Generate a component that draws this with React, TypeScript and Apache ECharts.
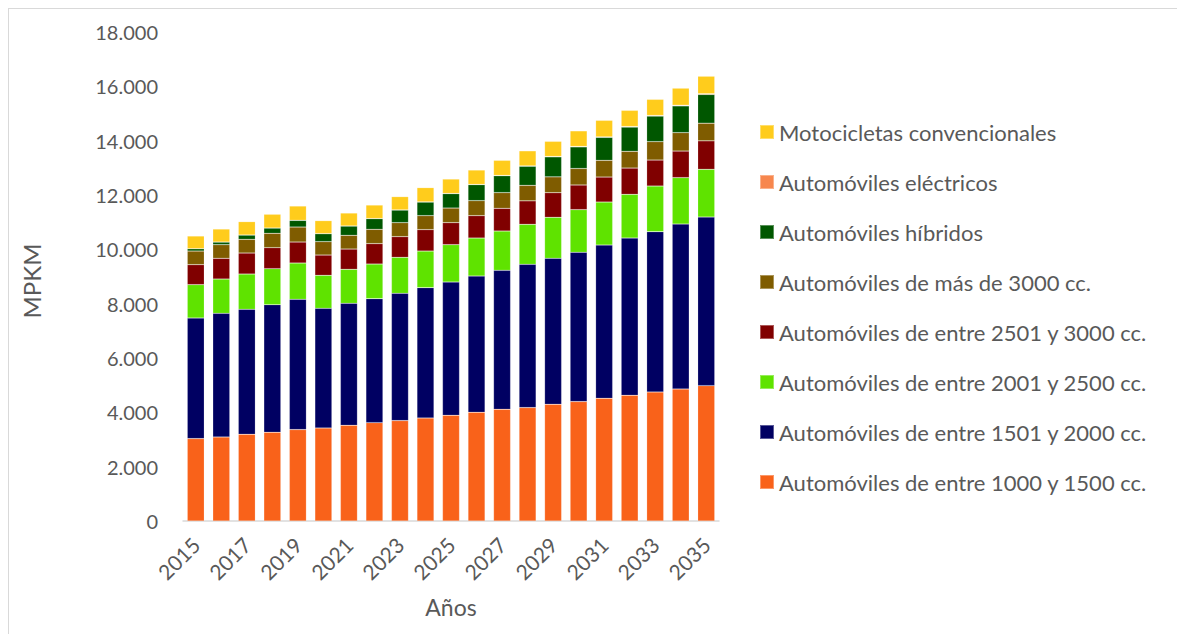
import React, { useEffect, useRef } from "react";
import * as echarts from "echarts";

// Years on the category axis
const years: string[] = [
  "2015", "2016", "2017", "2018", "2019", "2020", "2021", "2022", "2023", "2024", "2025",
  "2026", "2027", "2028", "2029", "2030", "2031", "2032", "2033", "2034", "2035",
];

// MPKM per vehicle segment (stacked from bottom to top)
const auto1000_1500: number[] = [3033, 3092, 3191, 3265, 3364, 3423, 3522, 3621, 3695, 3791, 3890, 4001, 4111, 4174, 4295, 4395, 4516, 4627, 4748, 4858, 4983];
const auto1501_2000: number[] = [4439, 4552, 4601, 4699, 4796, 4405, 4491, 4564, 4686, 4799, 4907, 5016, 5116, 5274, 5374, 5495, 5642, 5789, 5903, 6073, 6206];
const auto2001_2500: number[] = [1228, 1263, 1299, 1325, 1336, 1215, 1251, 1274, 1324, 1347, 1375, 1399, 1447, 1472, 1509, 1571, 1583, 1608, 1679, 1708, 1756];
const auto2501_3000: number[] = [736, 762, 773, 773, 773, 747, 747, 751, 762, 788, 810, 824, 835, 865, 907, 907, 920, 968, 957, 979, 1049];
const autoMas3000: number[] = [501, 503, 504, 527, 552, 493, 504, 526, 515, 515, 538, 552, 578, 570, 583, 607, 615, 615, 677, 677, 649];
const autoHibridos: number[] = [88, 97, 159, 196, 246, 294, 343, 394, 465, 501, 530, 589, 623, 705, 737, 797, 846, 894, 942, 985, 1057];
const autoElectricos: number[] = [0, 0, 1, 1, 2, 2, 3, 4, 5, 6, 7, 8, 10, 11, 13, 15, 17, 19, 22, 25, 28];
const motocicletas: number[] = [465, 478, 491, 502, 525, 477, 475, 496, 488, 524, 530, 530, 556, 554, 557, 573, 609, 596, 593, 627, 644];

// Y-axis tick values
const yTicks = { min: 0, max: 18000, interval: 2000 };

const FONT = "Lato, 'Open Sans', sans-serif";
const TEXT = "#595959";

const seriesDefs = [
  { name: "Automóviles de entre 1000 y 1500 cc.", data: auto1000_1500, color: "#F9621A" },
  { name: "Automóviles de entre 1501 y 2000 cc.", data: auto1501_2000, color: "#000062" },
  { name: "Automóviles de entre 2001 y 2500 cc.", data: auto2001_2500, color: "#5FE300" },
  { name: "Automóviles de entre 2501 y 3000 cc.", data: auto2501_3000, color: "#800000" },
  { name: "Automóviles de más de 3000 cc.", data: autoMas3000, color: "#7F5C00" },
  { name: "Automóviles híbridos", data: autoHibridos, color: "#005700" },
  { name: "Automóviles eléctricos", data: autoElectricos, color: "#F7874E" },
  { name: "Motocicletas convencionales", data: motocicletas, color: "#FFCC1C" },
];

const fmtThousands = (v: number) =>
  String(Math.round(v)).replace(/\B(?=(\d{3})+(?!\d))/g, ".");

export default function App() {
  const ref = useRef<HTMLDivElement>(null);

  useEffect(() => {
    document.body.style.overflow = "hidden";
    if (!ref.current) return;
    const chart = echarts.init(ref.current, undefined, { renderer: "svg" });
    chart.setOption({
      animation: false,
      textStyle: { fontFamily: FONT },
      grid: { left: 174, right: 458, top: 23, bottom: 112, containLabel: false },
      legend: {
        orient: "vertical",
        left: 750,
        top: 112,
        padding: 0,
        itemWidth: 14,
        itemHeight: 14,
        itemGap: 28,
        icon: "rect",
        textStyle: { fontFamily: FONT, fontSize: 22, color: TEXT, lineHeight: 22 },
        data: [...seriesDefs].reverse().map((s) => s.name),
      },
      xAxis: {
        type: "category",
        data: years,
        name: "Años",
        nameLocation: "middle",
        nameGap: 74,
        nameTextStyle: { fontFamily: FONT, fontSize: 23, color: TEXT },
        axisLine: { lineStyle: { color: "#D9D9D9", width: 1.5 } },
        axisTick: { show: false },
        axisLabel: {
          interval: 1,
          rotate: 45,
          margin: 20,
          fontFamily: FONT,
          fontSize: 21,
          color: TEXT,
        },
      },
      yAxis: {
        type: "value",
        min: yTicks.min,
        max: yTicks.max,
        interval: yTicks.interval,
        name: "MPKM",
        nameLocation: "middle",
        nameGap: 140,
        nameTextStyle: { fontFamily: FONT, fontSize: 24, color: TEXT, padding: [0, 9, 0, 0] },
        axisLine: { show: false },
        axisTick: { show: false },
        splitLine: { show: false },
        axisLabel: {
          margin: 25,
          fontFamily: FONT,
          fontSize: 20,
          color: TEXT,
          formatter: (v: number) => fmtThousands(v),
        },
      },
      series: seriesDefs.map((s) => ({
        name: s.name,
        type: "bar",
        stack: "total",
        data: s.data,
        barWidth: 17,
        itemStyle: {
          color: s.color,
          borderColor: "rgba(255,255,255,0.35)",
          borderWidth: 0.5,
        },
        emphasis: { disabled: true },
      })),
    });
    return () => chart.dispose();
  }, []);

  return (
    <div
      style={{
        position: "fixed",
        left: 8,
        top: 8,
        width: 1240,
        height: 700,
        boxSizing: "border-box",
        border: "1px solid #D9D9D9",
        background: "#fff",
      }}
    >
      <div ref={ref} style={{ width: 1168, height: 624 }} />
    </div>
  );
}
